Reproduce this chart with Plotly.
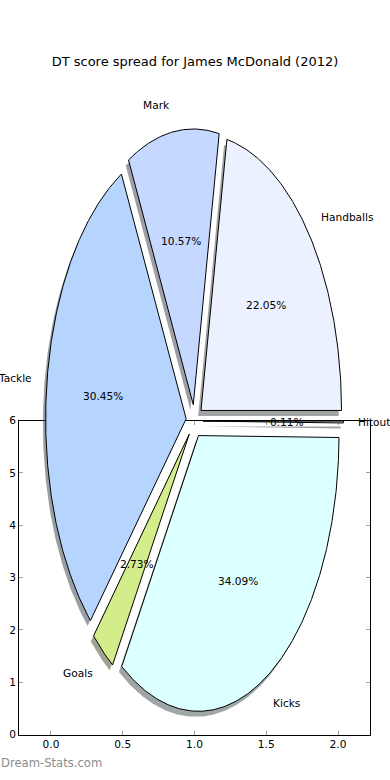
import math
import plotly.graph_objects as go

# ---- data ----
categories = ["Handballs", "Mark", "Tackle", "Goals", "Kicks", "Hitout"]
percentages = [22.05, 10.57, 30.45, 2.73, 34.09, 0.11]
colors = ["#ebf1ff", "#c5d8ff", "#b5d5ff", "#d3ed8a", "#dcffff", "#e0e0e0"]
x_ticks = [0.0, 0.5, 1.0, 1.5, 2.0]
y_ticks = [0, 1, 2, 3, 4, 5, 6]
title = "DT score spread for James McDonald (2012)"
watermark = "Dream-Stats.com"

# ---- layout constants ----
W, H = 390, 780
CX, CY = 194.5, 421.5      # pie centre in pixels (from top-left)
RX, RY = 140.5, 280.0      # pie radius in pixels (unequal axis scaling)
EXPLODE = 0.06
SHADOW = (-0.02, -0.02)
FONT = "DejaVu Sans"
LABEL_SIZE = 10.6


def to_rgb(h):
    h = h.lstrip("#")
    return tuple(int(h[i:i + 2], 16) for i in (0, 2, 4))


fig = go.Figure()

# empty trace to instantiate the visible frame subplot (x, y)
fig.add_trace(go.Scatter(x=[None], y=[None], xaxis="x", yaxis="y",
                         showlegend=False, hoverinfo="skip"))

total = sum(percentages)
wedges = []
theta = 0.0
for cat, val, col in zip(categories, percentages, colors):
    span = 360.0 * val / total
    t1, t2 = theta, theta + span
    tm = math.radians((t1 + t2) / 2)
    cx = EXPLODE * math.cos(tm)
    cy = EXPLODE * math.sin(tm)
    n = max(4, int(span * 2))
    xs = [cx]
    ys = [cy]
    for k in range(n + 1):
        a = math.radians(t1 + (t2 - t1) * k / n)
        xs.append(cx + math.cos(a))
        ys.append(cy + math.sin(a))
    xs.append(cx)
    ys.append(cy)
    wedges.append((cat, val, col, xs, ys, tm, cx, cy))
    theta = t2

# shadows (behind all wedges)
for cat, val, col, xs, ys, tm, cx, cy in wedges:
    r, g, b = to_rgb(col)
    fig.add_trace(go.Scatter(
        x=[v + SHADOW[0] for v in xs], y=[v + SHADOW[1] for v in ys],
        xaxis="x2", yaxis="y2", mode="lines", fill="toself",
        fillcolor="rgba(%d,%d,%d,0.5)" % (int(0.3 * r), int(0.3 * g), int(0.3 * b)),
        line=dict(width=0, color="rgba(0,0,0,0)"),
        showlegend=False, hoverinfo="skip"))

# wedges
for cat, val, col, xs, ys, tm, cx, cy in wedges:
    fig.add_trace(go.Scatter(
        x=xs, y=ys, xaxis="x2", yaxis="y2", mode="lines", fill="toself",
        fillcolor=col, line=dict(width=1, color="black"),
        name=cat, showlegend=False, hoverinfo="skip"))

annotations = []
for cat, val, col, xs, ys, tm, cx, cy in wedges:
    lx = cx + 1.1 * math.cos(tm)
    ly = cy + 1.1 * math.sin(tm)
    annotations.append(dict(
        x=lx, y=ly, xref="x2", yref="y2", text=cat, showarrow=False,
        xanchor="left" if lx > 0 else "right", yanchor="middle",
        font=dict(family=FONT, size=LABEL_SIZE, color="black"), borderpad=0))
    px = cx + 0.6 * math.cos(tm)
    py = cy + 0.6 * math.sin(tm)
    annotations.append(dict(
        x=px, y=py, xref="x2", yref="y2", text="%1.2f%%" % (100 * val / total),
        showarrow=False, xanchor="center", yanchor="middle",
        font=dict(family=FONT, size=LABEL_SIZE, color="black"), borderpad=0))

annotations.append(dict(
    x=0.0, y=1 - 769 / H, xref="paper", yref="paper", text=watermark,
    showarrow=False, xanchor="left", yanchor="middle",
    font=dict(family=FONT, size=11.6, color="#8c8c8c"), borderpad=0))

frame_axis = dict(
    showline=True, linecolor="black", linewidth=1, mirror="ticks",
    ticks="inside", ticklen=4, tickwidth=1, tickcolor="#a0a0a0",
    showgrid=False, zeroline=False, fixedrange=True,
    tickfont=dict(family=FONT, size=LABEL_SIZE, color="black"))

fig.update_layout(
    width=W, height=H, autosize=False,
    margin=dict(l=0, r=0, t=0, b=0, pad=0),
    paper_bgcolor="white", plot_bgcolor="rgba(0,0,0,0)",
    showlegend=False,
    title=dict(text=title, x=0.5, xanchor="center", y=1 - 61 / H, yanchor="middle",
               font=dict(family=FONT, size=13, color="black")),
    xaxis=dict(domain=[19 / W, 370 / W], range=[-0.2229, 2.2229],
               tickvals=x_ticks, ticktext=["%.1f" % v for v in x_ticks],
               anchor="y", **frame_axis),
    yaxis=dict(domain=[1 - 740 / H, 1 - 421 / H], range=[0, 6],
               tickvals=y_ticks, ticktext=[str(v) for v in y_ticks],
               anchor="x", **frame_axis),
    xaxis2=dict(domain=[0, 1], range=[-CX / RX, (W - CX) / RX], visible=False,
                anchor="y2", fixedrange=True),
    yaxis2=dict(domain=[0, 1], range=[(CY - H) / RY, CY / RY], visible=False,
                anchor="x2", fixedrange=True),
    annotations=annotations,
)

fig.write_html(
    "out.html",
    config={"displayModeBar": False, "responsive": False},
    post_script=("document.documentElement.style.margin='0';"
                 "document.documentElement.style.overflow='hidden';"
                 "document.body.style.margin='0';"
                 "document.body.style.overflow='hidden';"),
)
